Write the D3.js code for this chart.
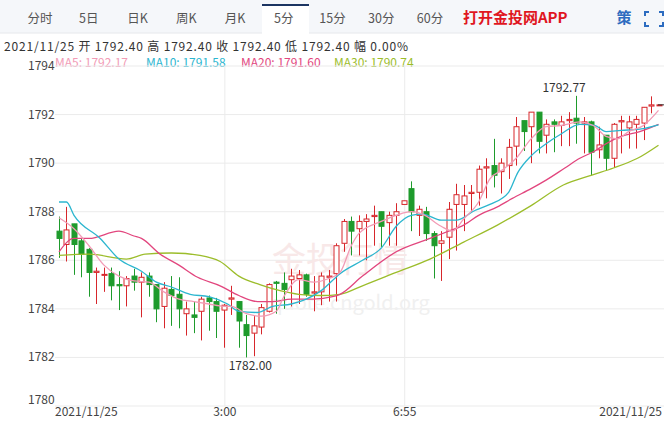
<!DOCTYPE html>
<html><head><meta charset="utf-8">
<script src="https://cdn.jsdelivr.net/npm/d3@7"></script>
<style>body{margin:0;background:#fff;font-family:"Noto Sans CJK SC","Noto Sans",sans-serif}</style>
</head><body><svg id="c" width="664" height="421"></svg>
<script>
const tabs=["分时","5日","日K","周K","月K","5分","15分","30分","60分"];
const yTicks=[1780,1782,1784,1786,1788,1790,1792,1794];
const xLabels=[{i:0,t:"2021/11/25",a:"start"},{i:22,t:"3:00",a:"middle"},{i:46,t:"6:55",a:"middle"},{i:80,t:"2021/11/25",a:"end"}];
// open, close, high, low
const opens=[1787.2,1786.65,1787.5,1786.8,1786.45,1785.5,1785.4,1785.45,1785.0,1784.95,1785.35,1785.1,1785.35,1785.0,1784.1,1784.8,1784.6,1783.8,1783.75,1783.9,1784.45,1784.3,1783.95,1784.4,1784.3,1783.35,1783.0,1783.25,1783.9,1785.1,1785.05,1785.2,1785.25,1785.4,1784.65,1784.7,1785.3,1785.45,1786.7,1787.6,1787.3,1787.6,1787.8,1788.0,1787.55,1787.85,1788.3,1788.95,1787.85,1788.0,1787.1,1786.7,1786.95,1788.3,1788.3,1788.75,1788.8,1789.8,1789.9,1789.65,1789.9,1790.7,1791.75,1791.5,1792.1,1791.15,1791.7,1791.55,1791.75,1791.85,1791.65,1791.7,1790.55,1791.15,1790.2,1791.7,1791.45,1791.6,1791.65,1792.35,1792.4];
const closes=[1786.9,1787.25,1786.65,1786.25,1785.5,1785.55,1785.42,1784.95,1784.95,1785.25,1785.1,1785.3,1785.0,1784.0,1784.85,1784.55,1784.0,1784.0,1783.65,1784.4,1784.3,1783.9,1784.15,1784.45,1783.5,1782.9,1783.3,1784.05,1785.0,1785.05,1784.8,1785.35,1785.4,1784.6,1784.7,1785.35,1785.35,1786.6,1787.6,1787.2,1787.6,1787.7,1787.85,1787.4,1787.85,1788.0,1788.45,1788.0,1788.1,1787.1,1786.6,1786.8,1788.1,1788.7,1788.65,1788.8,1789.75,1789.85,1789.5,1790.0,1790.65,1791.5,1791.3,1792.1,1790.9,1791.6,1791.6,1791.7,1791.8,1791.65,1791.7,1790.45,1790.75,1790.2,1791.6,1791.75,1791.7,1791.8,1792.3,1792.4,1792.4];
const highs=[1787.8,1788.2,1787.5,1786.9,1786.5,1785.7,1785.7,1785.7,1785.55,1785.35,1785.65,1785.5,1785.5,1785.0,1785.1,1785.35,1785.3,1784.3,1784.3,1784.5,1784.55,1784.45,1784.2,1784.95,1784.3,1783.75,1783.7,1784.2,1785.05,1785.15,1785.5,1785.65,1785.6,1785.45,1785.35,1785.5,1785.6,1786.7,1787.7,1787.8,1787.85,1787.9,1788.25,1788.0,1788.0,1788.35,1788.45,1789.25,1788.25,1788.2,1787.2,1787.2,1788.4,1789.15,1789.1,1789.1,1789.9,1790.2,1791.0,1790.2,1791.0,1791.9,1791.75,1792.1,1792.1,1791.8,1791.8,1791.95,1792.1,1792.77,1791.9,1791.75,1791.5,1791.15,1791.65,1791.95,1791.95,1791.95,1792.3,1792.75,1792.4];
const lows=[1786.1,1785.95,1785.4,1785.3,1784.5,1784.2,1784.7,1784.35,1783.95,1784.1,1784.75,1783.65,1784.5,1783.45,1783.2,1783.3,1783.2,1782.9,1783.0,1782.7,1783.1,1782.8,1782.4,1783.75,1782.4,1782.0,1782.05,1782.95,1783.85,1783.8,1784.0,1784.1,1784.2,1784.5,1783.9,1784.15,1784.3,1784.3,1786.35,1786.2,1786.2,1786.0,1786.6,1786.55,1786.6,1786.6,1788.3,1787.2,1787.0,1786.8,1785.25,1785.15,1786.05,1786.4,1787.2,1788.0,1788.25,1788.55,1789.0,1788.75,1789.35,1789.9,1790.5,1790.0,1790.4,1790.4,1790.45,1790.7,1790.7,1790.8,1790.4,1789.5,1790.2,1789.7,1789.8,1790.4,1790.6,1790.6,1790.95,1792.05,1792.4];
// moving averages as [candle index, value]
const ma5=[[0,1787.75],[2,1787.3],[4,1786.6],[6,1785.8],[8,1785.35],[10,1785.15],[12,1785.1],[14,1784.7],[16,1784.4],[18,1784.3],[20,1784.2],[22,1784.1],[23,1784.1],[25,1783.8],[27,1783.7],[29,1783.9],[30,1784.5],[32,1785.2],[34,1785.1],[36,1785.25],[37.5,1785.5],[39,1786.6],[40,1787.1],[43,1787.6],[45,1787.85],[47,1788.0],[48.5,1787.9],[51,1787.4],[52.5,1787.2],[54,1787.7],[56,1788.4],[57.5,1789.35],[59.3,1789.75],[61,1790.2],[63,1791.0],[65,1791.5],[67,1791.55],[69.5,1791.7],[71.3,1791.55],[73,1791.1],[74.5,1791.0],[76,1791.3],[78,1791.55],[80,1792.17]];
const ma10=[[0,1788.4],[1,1788.4],[2,1787.85],[5.5,1786.9],[8,1786.05],[11,1785.55],[13,1785.1],[15,1784.9],[17.5,1784.6],[20,1784.5],[22.5,1784.2],[24,1783.9],[26.5,1783.85],[28.5,1784.1],[31,1784.2],[33,1784.4],[35,1784.75],[37.5,1785.45],[40.5,1786.0],[43,1786.5],[45,1787.4],[47,1787.85],[48.5,1787.9],[51,1787.65],[53,1787.65],[55.5,1788.05],[57.5,1788.3],[60,1788.8],[61.2,1789.6],[63,1790.3],[65,1790.8],[67,1791.2],[69.5,1791.6],[71.5,1791.55],[73,1791.3],[75,1791.35],[77.5,1791.4],[80,1791.58]];
const ma20=[[0,1786.35],[2,1786.9],[4,1786.9],[8,1787.2],[10,1787.0],[11,1786.9],[13.5,1786.25],[16,1785.8],[18.5,1785.3],[21.5,1784.95],[24,1784.55],[26.5,1784.3],[28.5,1784.3],[31,1784.4],[34,1784.4],[36.5,1784.5],[37.5,1784.6],[40.5,1785.35],[45,1786.35],[49.5,1786.9],[52,1787.2],[54,1787.45],[56,1787.85],[58.5,1788.2],[60.5,1788.55],[63,1788.95],[65,1789.3],[67.5,1789.8],[69.5,1790.2],[71.5,1790.5],[73,1790.8],[75,1791.1],[77.5,1791.3],[80,1791.6]];
const ma30=[[0,1786.2],[4,1786.25],[9,1786.05],[11.5,1786.25],[15,1786.3],[18.8,1786.2],[21.5,1785.95],[24,1785.35],[26.8,1785.0],[29.5,1784.75],[32,1784.6],[35,1784.55],[37.5,1784.6],[40.5,1784.95],[45,1785.5],[49.5,1786.05],[54,1786.75],[58.5,1787.45],[63,1788.25],[67.3,1789.1],[71,1789.5],[74,1789.8],[77.2,1790.2],[80,1790.74]];

const svg=d3.select("#c");
const UP="#d7262b",DN="#1e9b2c";
svg.append("rect").attr("x",0).attr("y",0).attr("width",664).attr("height",33).attr("fill","#f5f7fa");
svg.append("line").attr("x1",0).attr("x2",664).attr("y1",33).attr("y2",33).attr("stroke","#e6e8ec");
const tabX=d3.scalePoint().domain(tabs).range([40,430]);
svg.append("rect").attr("x",262).attr("y",4).attr("width",47).attr("height",30).attr("fill","#fff");
svg.append("rect").attr("x",262).attr("y",4).attr("width",47).attr("height",2).attr("fill","#1c3562");
svg.selectAll("text.tab").data(tabs).join("text").attr("x",d=>tabX(d)).attr("y",23).attr("text-anchor","middle")
 .attr("font-size",12.5).attr("fill","#555").text(d=>d);
svg.append("text").attr("x",463).attr("y",23).attr("font-size",15).attr("font-weight","bold").attr("fill","#e0161f").text("打开金投网APP");
svg.append("text").attr("x",624).attr("y",23).attr("text-anchor","middle").attr("font-size",15).attr("font-weight","bold").attr("fill","#2d6cc0").text("策");
const ic=svg.append("g").attr("stroke","#2d6cc0").attr("stroke-width",2).attr("fill","none");
[[645,12,1,1],[663,12,-1,1],[645,26,1,-1],[663,26,-1,-1]].forEach(([x,y,dx,dy])=>ic.append("path").attr("d",`M${x},${y+4*dy}V${y}H${x+4*dx}`));
svg.append("text").attr("x",4).attr("y",51).attr("font-size",12).attr("fill","#333").attr("textLength",404).text("2021/11/25 开 1792.40 高 1792.40 收 1792.40 低 1792.40 幅 0.00%");
const leg=[["MA5: 1792.17","#f29bb6",55],["MA10: 1791.58","#2cb6cf",146],["MA20: 1791.60","#e2467e",241],["MA30: 1790.74","#9cbd2b",334]];
leg.forEach(([t,c,x])=>svg.append("text").attr("x",x).attr("y",67).attr("font-size",12).attr("fill",c).text(t));

const N=opens.length;
const x=d3.scaleLinear().domain([0,N-1]).range([59,658.5]);
const y=d3.scaleLinear().domain([1780,1794]).range([406,66]);
svg.selectAll("line.g").data(yTicks).join("line").attr("x1",55).attr("x2",664).attr("y1",d=>y(d)).attr("y2",d=>y(d)).attr("stroke","#ebebeb");
[22,46].forEach(i=>svg.append("line").attr("x1",x(i)+1).attr("x2",x(i)+1).attr("y1",66).attr("y2",406).attr("stroke","#ebebeb"));
svg.selectAll("text.yt").data(yTicks).join("text").attr("x",28).attr("y",d=>Math.min(y(d)+4,404)).attr("font-size",12).attr("fill","#444").text(d=>d);
xLabels.forEach(l=>svg.append("text").attr("x",l.a=="start"?55:l.a=="end"?662:x(l.i)+1).attr("y",416).attr("text-anchor",l.a).attr("font-size",12).attr("fill","#444").text(l.t));
svg.append("text").attr("x",340).attr("y",272).attr("text-anchor","middle").attr("font-size",34).attr("fill","#f8e8e8").text("金投行情");
svg.append("text").attr("x",350).attr("y",310).attr("text-anchor","middle").attr("font-size",20).attr("fill","#f0f0f0").text("quote.cngold.org");
const bw=5;
const g=svg.append("g");
d3.range(N).forEach(i=>{
 const up=closes[i]>=opens[i],col=up?UP:DN,cx=Math.round(x(i))+0.5;
 g.append("line").attr("x1",cx).attr("x2",cx).attr("y1",y(highs[i])).attr("y2",y(lows[i])).attr("stroke",col);
 const t=y(Math.max(opens[i],closes[i])),b=y(Math.min(opens[i],closes[i]));
 g.append("rect").attr("x",cx-bw/2).attr("y",t).attr("width",bw).attr("height",Math.max(b-t,1)).attr("fill",up?"#fff":DN).attr("stroke",col);
});
const line=d3.line().x(d=>x(d[0])).y(d=>y(d[1])).curve(d3.curveMonotoneX);
[[ma30,"#9cbd2b"],[ma20,"#e2467e"],[ma10,"#2cb6cf"],[ma5,"#f29bb6"]].forEach(([d,c])=>svg.append("path").attr("d",line(d)).attr("fill","none").attr("stroke",c).attr("stroke-width",1.3));
const hi=d3.maxIndex(highs),lo=d3.minIndex(lows);
svg.append("text").attr("x",x(hi)-12).attr("y",y(highs[hi])-4).attr("text-anchor","middle").attr("font-size",12).attr("fill","#333").text(highs[hi].toFixed(2));
svg.append("text").attr("x",x(lo)+4).attr("y",y(lows[lo])+13).attr("text-anchor","middle").attr("font-size",12).attr("fill","#333").text(lows[lo].toFixed(2));
svg.append("line").attr("x1",658).attr("x2",664).attr("y1",y(closes[N-1])).attr("y2",y(closes[N-1])).attr("stroke","#333");
</script></body></html>
